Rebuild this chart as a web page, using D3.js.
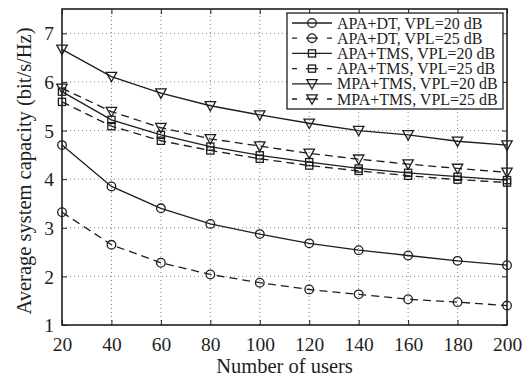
<!DOCTYPE html>
<html>
<head>
<meta charset="utf-8">
<script src="https://cdn.jsdelivr.net/npm/d3@7"></script>
<style>
  html, body { margin: 0; padding: 0; background: #fff; }
  svg { display: block; font-family: 'Liberation Serif', 'Times New Roman', serif; }
</style>
</head>
<body>
<div id="chart"></div>
<script>
const users = [20, 40, 60, 80, 100, 120, 140, 160, 180, 200];
const xTicks = [20, 40, 60, 80, 100, 120, 140, 160, 180, 200];
const yTicks = [1, 2, 3, 4, 5, 6, 7];

const apaDt20 = [4.70, 3.85, 3.40, 3.08, 2.87, 2.68, 2.54, 2.43, 2.32, 2.23];
const apaDt25 = [3.32, 2.65, 2.28, 2.04, 1.87, 1.73, 1.63, 1.53, 1.47, 1.40];
const apaTms20 = [5.80, 5.22, 4.91, 4.67, 4.49, 4.35, 4.22, 4.13, 4.05, 3.98];
const apaTms25 = [5.59, 5.09, 4.79, 4.59, 4.42, 4.28, 4.17, 4.07, 3.99, 3.93];
const mpaTms20 = [6.67, 6.11, 5.77, 5.51, 5.32, 5.15, 5.00, 4.91, 4.78, 4.70];
const mpaTms25 = [5.87, 5.39, 5.06, 4.83, 4.68, 4.53, 4.41, 4.31, 4.22, 4.14];

const seriesNames = [
  'APA+DT, VPL=20 dB',
  'APA+DT, VPL=25 dB',
  'APA+TMS, VPL=20 dB',
  'APA+TMS, VPL=25 dB',
  'MPA+TMS, VPL=20 dB',
  'MPA+TMS, VPL=25 dB'
];
const seriesValues = [apaDt20, apaDt25, apaTms20, apaTms25, mpaTms20, mpaTms25];
const seriesMarkers = ['circle', 'circle', 'square', 'square', 'triangle', 'triangle'];
const seriesDashed = [false, true, false, true, false, true];

const width = 530;
const height = 381;
const margin = { top: 9, right: 23, bottom: 56, left: 62 };
const ink = '#1e1e1e';

const svg = d3.select('#chart')
  .append('svg')
  .attr('width', width)
  .attr('height', height);

const x = d3.scaleLinear()
  .domain([20, 200])
  .range([margin.left, width - margin.right]);

const y = d3.scaleLinear()
  .domain([1, 7.5])
  .range([height - margin.bottom, margin.top]);

// dotted grid
const grid = svg.append('g')
  .attr('stroke', '#666')
  .attr('stroke-width', 0.8)
  .attr('stroke-dasharray', '1,3');

grid.selectAll('line.gx')
  .data(xTicks.slice(1, -1))
  .join('line')
  .attr('class', 'gx')
  .attr('x1', d => x(d)).attr('x2', d => x(d))
  .attr('y1', y.range()[0]).attr('y2', y.range()[1]);

grid.selectAll('line.gy')
  .data(yTicks.slice(1))
  .join('line')
  .attr('class', 'gy')
  .attr('x1', x.range()[0]).attr('x2', x.range()[1])
  .attr('y1', d => y(d)).attr('y2', d => y(d));

// axes, ticks pointing inward on all four sides
const tickLen = 5;
const bottomAxis = svg.append('g')
  .attr('transform', `translate(0,${height - margin.bottom})`)
  .call(d3.axisBottom(x).tickValues(xTicks).tickSize(-tickLen).tickPadding(12).tickSizeOuter(0));
const leftAxis = svg.append('g')
  .attr('transform', `translate(${margin.left},0)`)
  .call(d3.axisLeft(y).tickValues(yTicks).tickFormat(d3.format('d')).tickSize(-tickLen).tickPadding(8).tickSizeOuter(0));
const topAxis = svg.append('g')
  .attr('transform', `translate(0,${margin.top})`)
  .call(d3.axisTop(x).tickValues(xTicks).tickSize(-tickLen).tickFormat('').tickSizeOuter(0));
const rightAxis = svg.append('g')
  .attr('transform', `translate(${width - margin.right},0)`)
  .call(d3.axisRight(y).tickValues(yTicks).tickSize(-tickLen).tickFormat('').tickSizeOuter(0));

[bottomAxis, leftAxis, topAxis, rightAxis].forEach(axis => {
  axis.select('.domain').remove();
  axis.selectAll('line').attr('stroke', ink).attr('stroke-width', 1);
  axis.selectAll('text')
    .attr('fill', ink)
    .style('font-size', '19.5px')
    .style('font-family', "'Liberation Serif', 'Times New Roman', serif");
});
bottomAxis.selectAll('text').attr('dy', '0.71em');
leftAxis.selectAll('text').attr('dy', '0.34em');

svg.append('rect')
  .attr('x', x.range()[0])
  .attr('y', y.range()[1])
  .attr('width', x.range()[1] - x.range()[0])
  .attr('height', y.range()[0] - y.range()[1])
  .attr('fill', 'none')
  .attr('stroke', ink)
  .attr('stroke-width', 1.6);

// axis titles
svg.append('text')
  .attr('x', (x.range()[0] + x.range()[1]) / 2)
  .attr('y', 373)
  .attr('text-anchor', 'middle')
  .attr('fill', ink)
  .style('font-size', '20.5px')
  .text('Number of users');

svg.append('text')
  .attr('transform', `translate(31,${(y.range()[0] + y.range()[1]) / 2 + 4}) rotate(-90)`)
  .attr('text-anchor', 'middle')
  .attr('fill', ink)
  .style('font-size', '20.5px')
  .text('Average system capacity (bit/s/Hz)');

function drawMarker(g, type, cx, cy) {
  if (type === 'circle') {
    g.append('circle').attr('cx', cx).attr('cy', cy).attr('r', 4.3);
  } else if (type === 'square') {
    g.append('rect').attr('x', cx - 3.6).attr('y', cy - 3.6).attr('width', 7.2).attr('height', 7.2);
  } else {
    g.append('path').attr('d', `M${cx - 5.2},${cy - 4.2} L${cx + 5.2},${cy - 4.2} L${cx},${cy + 5.2} Z`);
  }
}

const line = d3.line()
  .x((d, i) => x(users[i]))
  .y(d => y(d));

seriesValues.forEach((values, s) => {
  const g = svg.append('g')
    .attr('fill', 'none')
    .attr('stroke', ink)
    .attr('stroke-width', 1.3);
  g.append('path')
    .datum(values)
    .attr('d', line)
    .attr('stroke-dasharray', seriesDashed[s] ? '8,5' : null);
  values.forEach((v, i) => drawMarker(g, seriesMarkers[s], x(users[i]), y(v)));
});

// legend
const legend = { x: 287, y: 13, w: 216, h: 96 };
svg.append('rect')
  .attr('x', legend.x).attr('y', legend.y)
  .attr('width', legend.w).attr('height', legend.h)
  .attr('fill', '#fff')
  .attr('stroke', ink)
  .attr('stroke-width', 1.3);

const rowH = 15.2;
seriesNames.forEach((name, s) => {
  const cy = legend.y + 10 + rowH * s;
  const g = svg.append('g')
    .attr('fill', 'none')
    .attr('stroke', ink)
    .attr('stroke-width', 1.3);
  g.append('line')
    .attr('x1', legend.x + 5).attr('x2', legend.x + 45)
    .attr('y1', cy).attr('y2', cy)
    .attr('stroke-dasharray', seriesDashed[s] ? '5,9,12,9,5' : null);
  drawMarker(g, seriesMarkers[s], legend.x + 25, cy);
  svg.append('text')
    .attr('x', legend.x + 50)
    .attr('y', cy)
    .attr('dy', '0.35em')
    .attr('fill', ink)
    .style('font-size', '16px')
    .text(name);
});
</script>
</body>
</html>
